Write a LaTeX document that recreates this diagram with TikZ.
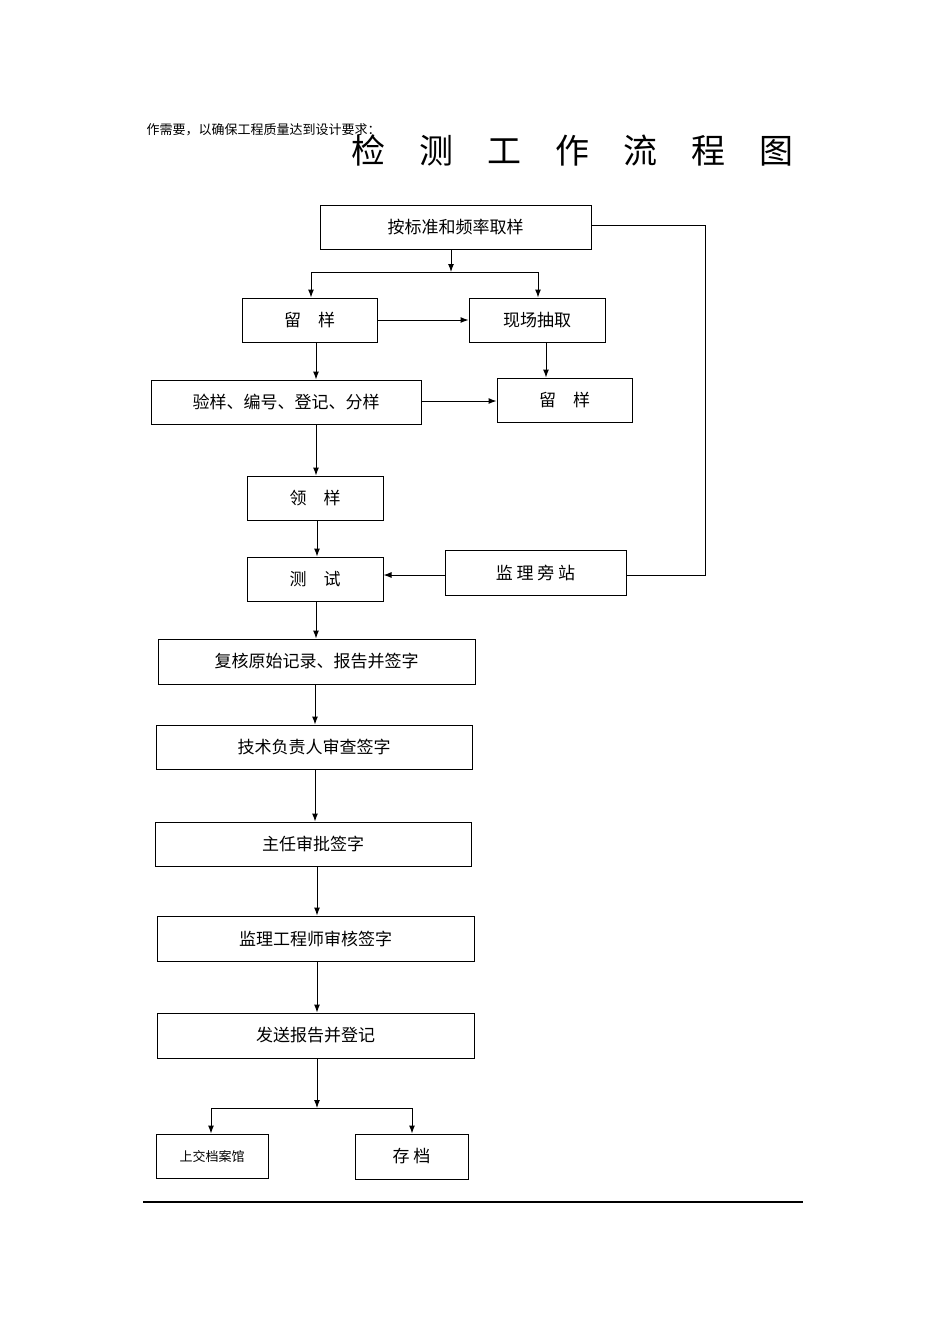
\documentclass[tikz,border=0pt]{standalone}
\usepackage{fontspec}
\setmainfont{Noto Sans CJK SC}
\usetikzlibrary{arrows.meta}
\begin{document}
\begin{tikzpicture}[x=1pt,y=-1pt,
 bx/.style={draw,line width=1pt,inner sep=0pt,font=\fontsize{17}{17}\selectfont},
 ar/.style={-{Latex[length=8pt,width=6pt]},line width=1pt},
 ln/.style={line width=1pt}]
\useasboundingbox (0,0) rectangle (950,1344);
\newcommand\bx[6]{\node[bx,minimum width=#4-#2,minimum height=#5-#3] (#1) at ({(#2+#4)/2},{(#3+#5)/2}) {#6};}
\bx{a}{320}{205}{591}{249}{按标准和频率取样}
\bx{b}{242}{298}{377}{342}{留\quad 样}
\bx{c}{469}{298}{605}{342}{现场抽取}
\bx{d}{151}{380}{421}{424}{验样、编号、登记、分样}
\bx{e}{497}{378}{632}{422}{留\quad 样}
\bx{f}{247}{476}{383}{520}{领\quad 样}
\bx{g}{247}{557}{383}{601}{测\quad 试}
\bx{h}{445}{550}{626}{595}{监 理 旁 站}
\bx{i}{158}{639}{475}{684}{复核原始记录、报告并签字}
\bx{j}{156}{725}{472}{769}{技术负责人审查签字}
\bx{k}{155}{822}{471}{866}{主任审批签字}
\bx{l}{157}{916}{474}{961}{监理工程师审核签字}
\bx{m}{157}{1013}{474}{1058}{发送报告并登记}
\node[bx,minimum width=112,minimum height=44,font=\fontsize{13}{13}\selectfont] (n) at (212,1156) {上交档案馆};
\bx{o}{355}{1134}{468}{1179}{存\ 档}
\node[anchor=west,font=\fontsize{13}{13}\selectfont] (t0) at (143,130) {作需要，以确保工程质量达到设计要求：};
\node[font=\fontsize{34}{34}\selectfont] (t1) at (572,150) {检\quad 测\quad 工\quad 作\quad 流\quad 程\quad 图};
\coordinate (s1) at (451,272);
\draw[ar] (a.south -| s1) -- (s1);
\draw[ln] (311,272) -- (538,272);
\draw[ar] (311,272) -- (b.north -| 311,0);
\draw[ar] (538,272) -- (c.north -| 538,0);
\draw[ar] (b.east) -- (c.west);
\draw[ar] (b.south -| 316,0) -- (d.north -| 316,0);
\draw[ar] (c.south -| 546,0) -- (e.north -| 546,0);
\draw[ar] (d.east |- 0,401) -- (e.west |- 0,401);
\draw[ar] (d.south -| 316,0) -- (f.north -| 316,0);
\draw[ar] (f.south -| 317,0) -- (g.north -| 317,0);
\draw[ar] (g.south -| 316,0) -- (i.north -| 316,0);
\draw[ar] (h.west |- 0,575) -- (g.east |- 0,575);
\coordinate (r1) at (705,225);
\coordinate (r2) at (705,575);
\draw[ln] (a.east |- r1) -- (r1) -- (r2) -- (h.east |- r2);
\draw[ar] (i.south -| 315,0) -- (j.north -| 315,0);
\draw[ar] (j.south -| 315,0) -- (k.north -| 315,0);
\draw[ar] (k.south -| 317,0) -- (l.north -| 317,0);
\draw[ar] (l.south -| 317,0) -- (m.north -| 317,0);
\coordinate (s2) at (317,1108);
\draw[ar] (m.south -| s2) -- (s2);
\draw[ln] (211,1108) -- (412,1108);
\draw[ar] (211,1108) -- (n.north -| 211,0);
\draw[ar] (412,1108) -- (o.north -| 412,0);
\draw[line width=1.2pt] (143,1202) -- (803,1202);
\end{tikzpicture}
\end{document}
